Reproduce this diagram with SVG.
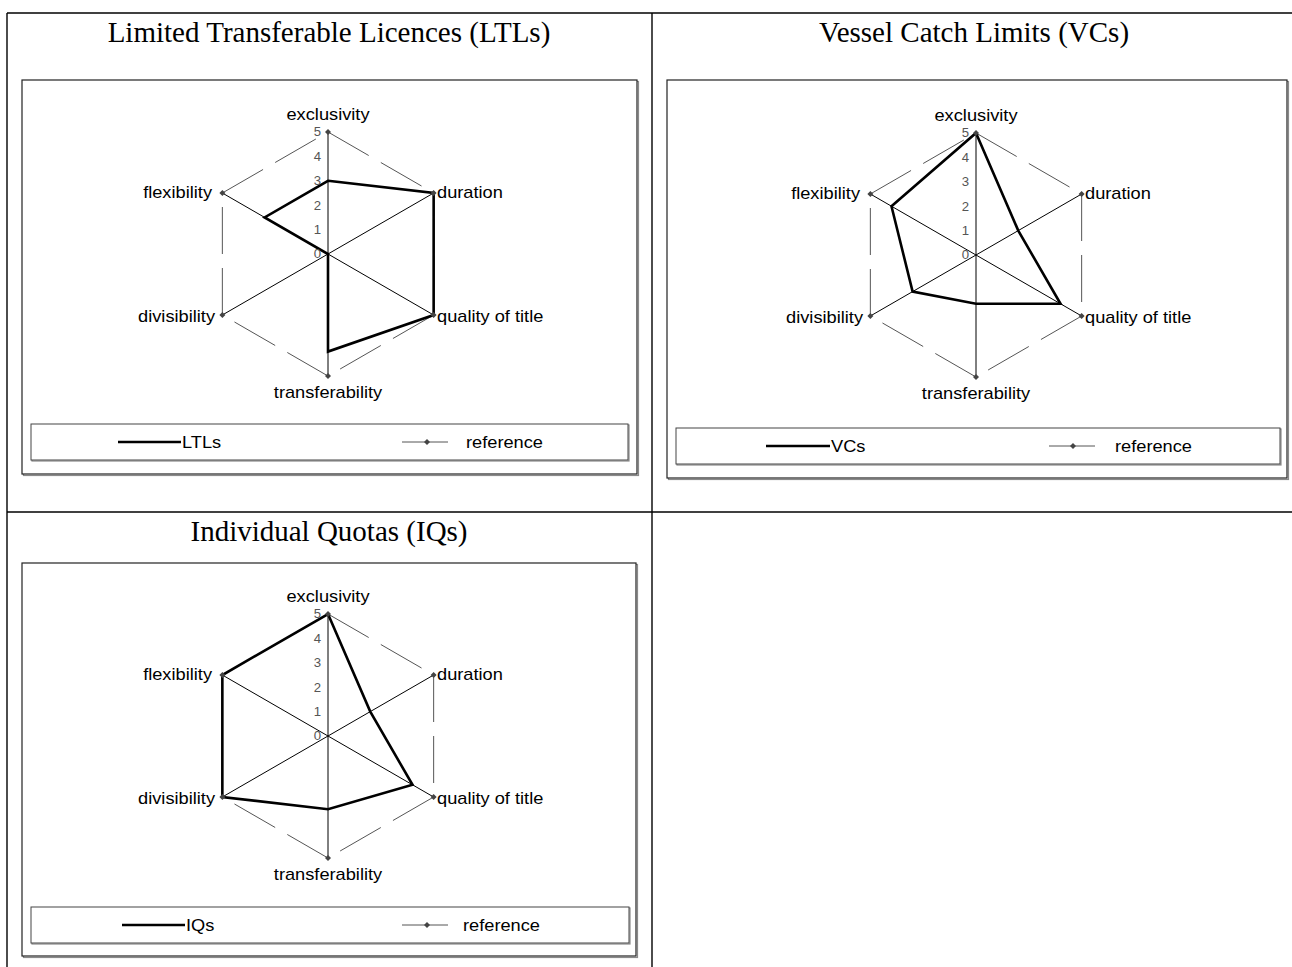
<svg xmlns="http://www.w3.org/2000/svg" width="1292" height="967" viewBox="0 0 1292 967">
  <style>
    .title { font-family: "Liberation Serif", "Times New Roman", serif; font-size: 29px; fill: #000; text-anchor: middle; }
    .lbl { font-family: "Liberation Sans", Arial, sans-serif; font-size: 16px; fill: #000; }
    .tick { font-family: "Liberation Sans", Arial, sans-serif; font-size: 12px; fill: #555; text-anchor: end; }
    .grid { stroke: #000; stroke-width: 1.4; fill: none; }
    .box { fill: #fff; stroke: #222; stroke-width: 1.2; }
    .shadow { fill: none; stroke: #8a8a8a; stroke-width: 1.2; }
    .lgbox { fill: #fff; stroke: #444; stroke-width: 1; }
    .spoke { stroke: #000; stroke-width: 1; }
    .ref { stroke: #555; stroke-width: 1; stroke-dasharray: 47 14; }
    .series { fill: none; stroke: #000; stroke-width: 2.6; stroke-linejoin: miter; }
    .lgline { stroke: #000; stroke-width: 2.6; }
    .lgref { stroke: #555; stroke-width: 1; }
    .mk { fill: #444; }
  </style>
  <defs>
    <path id="dia" class="mk" d="M0,-3 L3,0 L0,3 L-3,0 Z"/>
    <!-- one radar frame: spokes and dashed level-5 hexagon (centre at 0,0, radius 122) -->
    <g id="frame">
      <line class="spoke" x1="0" y1="-122" x2="0" y2="122"/>
      <line class="spoke" x1="105.65" y1="-61" x2="-105.65" y2="61"/>
      <line class="spoke" x1="105.65" y1="61" x2="-105.65" y2="-61"/>
      <line class="ref" x1="0" y1="-122" x2="105.65" y2="-61"/>
      <line class="ref" x1="105.65" y1="-61" x2="105.65" y2="61"/>
      <line class="ref" x1="105.65" y1="61" x2="0" y2="122"/>
      <line class="ref" x1="0" y1="122" x2="-105.65" y2="61"/>
      <line class="ref" x1="-105.65" y1="61" x2="-105.65" y2="-61"/>
      <line class="ref" x1="-105.65" y1="-61" x2="0" y2="-122"/>
    </g>
    <g id="marks">
      <use href="#dia" x="0" y="-122"/>
      <use href="#dia" x="105.65" y="-61"/>
      <use href="#dia" x="105.65" y="61"/>
      <use href="#dia" x="0" y="122"/>
      <use href="#dia" x="-105.65" y="61"/>
      <use href="#dia" x="-105.65" y="-61"/>
    </g>
    <g id="ticks">
      <text class="tick" transform="translate(-7,4.3) scale(1.1,1)">0</text>
      <text class="tick" transform="translate(-7,-20.1) scale(1.1,1)">1</text>
      <text class="tick" transform="translate(-7,-44.5) scale(1.1,1)">2</text>
      <text class="tick" transform="translate(-7,-68.9) scale(1.1,1)">3</text>
      <text class="tick" transform="translate(-7,-93.3) scale(1.1,1)">4</text>
      <text class="tick" transform="translate(-7,-117.7) scale(1.1,1)">5</text>
    </g>
    <g id="names">
      <text class="lbl" text-anchor="middle" transform="translate(0,-134) scale(1.14,1)">exclusivity</text>
      <text class="lbl" transform="translate(109,-56) scale(1.14,1)">duration</text>
      <text class="lbl" transform="translate(109,68) scale(1.14,1)">quality of title</text>
      <text class="lbl" text-anchor="middle" transform="translate(0,144) scale(1.14,1)">transferability</text>
      <text class="lbl" text-anchor="end" transform="translate(-113,68) scale(1.14,1)">divisibility</text>
      <text class="lbl" text-anchor="end" transform="translate(-116,-56) scale(1.14,1)">flexibility</text>
    </g>
  </defs>

  <rect width="1292" height="967" fill="#fff"/>

  <!-- table rules -->
  <g id="table">
    <line class="grid" x1="7" y1="13" x2="1292" y2="13"/>
    <line class="grid" x1="7" y1="512" x2="1292" y2="512"/>
    <line class="grid" x1="7" y1="13" x2="7" y2="967"/>
    <line class="grid" x1="652" y1="13" x2="652" y2="967"/>
  </g>

  <!-- Limited Transferable Licences -->
  <g id="chart-ltl">
    <text class="title" x="329" y="42">Limited Transferable Licences (LTLs)</text>
    <rect class="shadow" x="23.5" y="81.5" width="615" height="394"/>
    <rect class="box" x="22" y="80" width="615" height="394"/>
    <g transform="translate(328,254)">
      <use href="#frame"/>
      <polygon class="series" points="0,-73.2 105.65,-61 105.65,61 0,97.6 0,0 -63.39,-36.6"/>
      <use href="#marks"/>
      <use href="#ticks"/>
      <use href="#names"/>
    </g>
    <g id="legend-ltl">
      <rect class="shadow" x="32" y="425" width="597" height="36"/>
      <rect class="lgbox" x="31" y="424" width="597" height="36"/>
      <line class="lgline" x1="118" y1="442" x2="181" y2="442"/>
      <text class="lbl" transform="translate(182,448) scale(1.14,1)">LTLs</text>
      <line class="lgref" x1="402" y1="442" x2="448" y2="442"/>
      <use href="#dia" x="427" y="442"/>
      <text class="lbl" transform="translate(466,448) scale(1.14,1)">reference</text>
    </g>
  </g>

  <!-- Vessel Catch Limits -->
  <g id="chart-vc">
    <text class="title" x="974" y="42">Vessel Catch Limits (VCs)</text>
    <rect class="shadow" x="668.5" y="81.5" width="620" height="398"/>
    <rect class="box" x="667" y="80" width="620" height="398"/>
    <g transform="translate(976,255)">
      <use href="#frame"/>
      <polygon class="series" points="0,-122 42.26,-24.4 84.52,48.8 0,48.8 -63.39,36.6 -84.52,-48.8"/>
      <use href="#marks"/>
      <use href="#ticks"/>
      <use href="#names"/>
    </g>
    <g id="legend-vc">
      <rect class="shadow" x="677" y="429" width="604" height="36"/>
      <rect class="lgbox" x="676" y="428" width="604" height="36"/>
      <line class="lgline" x1="766" y1="446" x2="830" y2="446"/>
      <text class="lbl" transform="translate(831,452) scale(1.14,1)">VCs</text>
      <line class="lgref" x1="1049" y1="446" x2="1095" y2="446"/>
      <use href="#dia" x="1073" y="446"/>
      <text class="lbl" transform="translate(1115,452) scale(1.14,1)">reference</text>
    </g>
  </g>

  <!-- Individual Quotas -->
  <g id="chart-iq">
    <text class="title" x="329" y="541">Individual Quotas (IQs)</text>
    <rect class="shadow" x="23.5" y="564.5" width="614" height="393"/>
    <rect class="box" x="22" y="563" width="614" height="393"/>
    <g transform="translate(328,736)">
      <use href="#frame"/>
      <polygon class="series" points="0,-122 42.26,-24.4 84.52,48.8 0,73.2 -105.65,61 -105.65,-61"/>
      <use href="#marks"/>
      <use href="#ticks"/>
      <use href="#names"/>
    </g>
    <g id="legend-iq">
      <rect class="shadow" x="32" y="908" width="598" height="36"/>
      <rect class="lgbox" x="31" y="907" width="598" height="36"/>
      <line class="lgline" x1="122" y1="925" x2="185" y2="925"/>
      <text class="lbl" transform="translate(186,931) scale(1.14,1)">IQs</text>
      <line class="lgref" x1="402" y1="925" x2="448" y2="925"/>
      <use href="#dia" x="427" y="925"/>
      <text class="lbl" transform="translate(463,931) scale(1.14,1)">reference</text>
    </g>
  </g>
</svg>
